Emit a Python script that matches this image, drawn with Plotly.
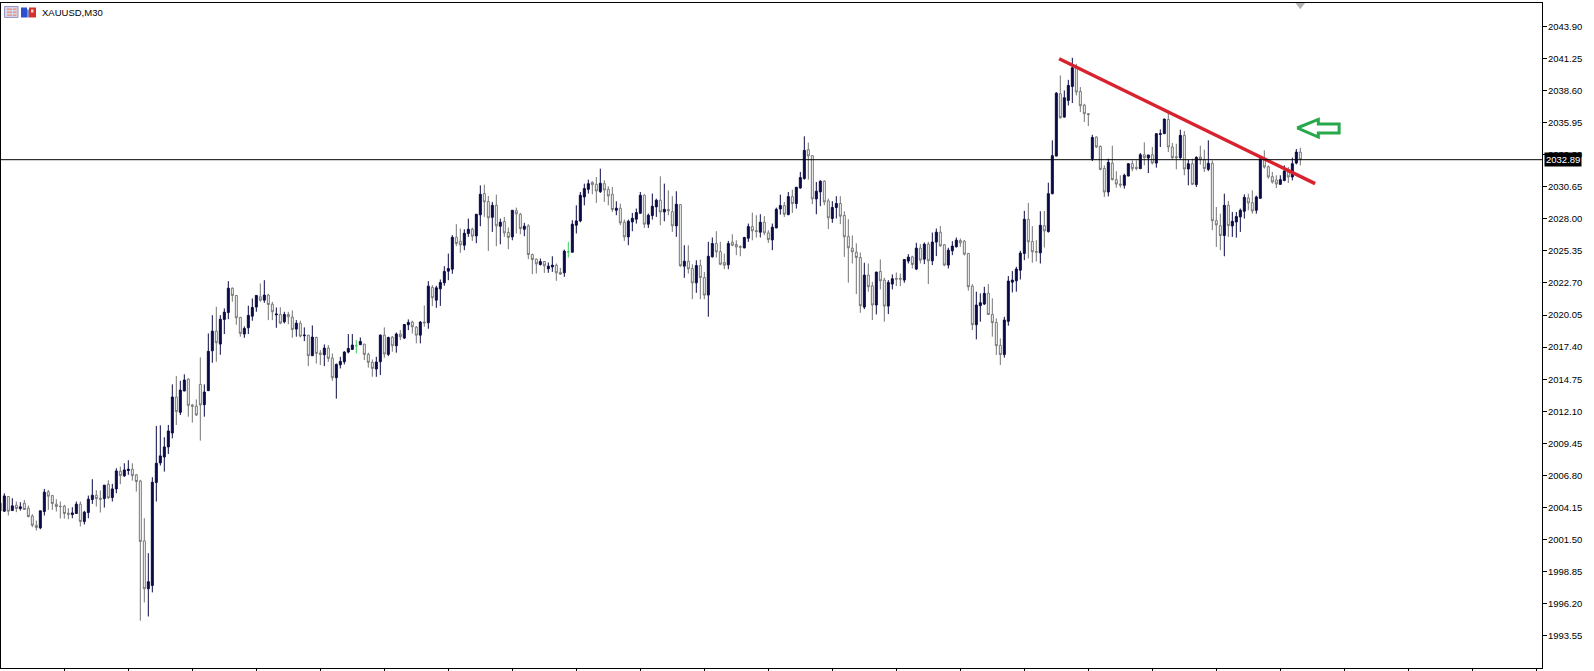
import plotly.graph_objects as go

title_text = "XAUUSD,M30"
bar_index_start = -1

candle_types = (
    "GDGDGDGGGGDDGGGGGGDDGDDDGGDGDDGDDGGGGDDDDDDDGDDGGGGDDDGDDDGGGDDDD"
    "GDGGDGDGGDGDGDGGDGGDDDDDNDGGGDDGDGDGDDGGDGDGDDDDDGGDDGDDGGDGDGGDGGDGGG"
    "DGDDGGDNDDDDDGGDGGGDGGDDDDGDDDGDGGDGDGGDGGDDGGGDGGGDDGGDGGDDDGDGDDDGGD"
    "DGGDDGGGGGGDGGDGGDDGGDDGDGDGDDGGDDDGGGGDDDGGGGDDDDDDGGG"
    "DGDDDGDDDGGGGDGGGDGGGDDGGDGDGDDDGGGDGDGDGGDGGGDGDDDDGGDDGGGGDDGDDG"
)

highs = [
    2004.64,2005.32,2005.10,2004.91,2004.64,2004.58,2004.77,2004.31,2003.59,2003.07,2003.87,2005.68,2005.60,2005.19,2004.83,2004.64,2004.36,2004.09,2004.17,2004.64,2004.64,2003.87,2005.13,2006.48,2005.57,2005.55,2006.01,2006.40,2006.10,2007.39,2007.53,2007.80,2008.05,2007.80,2006.92,2006.43,2003.26,2000.37,2006.65,2010.88,2010.94,2009.95,2010.97,2014.32,2015.01,2014.62,2015.15,2014.82,2012.70,2013.08,2016.55,2014.32,2018.53,2020.04,2020.73,2020.04,2020.60,2022.85,2022.33,2021.70,2019.91,2019.11,2020.82,2021.42,2021.70,
    2022.66,2022.93,2021.81,2021.14,2020.68,2020.70,2020.32,2020.32,2020.43,2019.63,2019.58,2019.03,2018.39,2019.19,2018.26,2017.16,2017.62,2017.57,2016.88,2016.05,2016.60,2017.07,2018.48,2018.48,2017.98,2018.20,2017.65,2016.94,2016.38,2016.60,2018.45,2019.03,2018.26,2018.31,2018.61,2018.81,2019.30,2019.69,2019.58,2019.14,2019.55,2020.84,2022.85,2022.52,2022.47,2022.99,2024.09,2025.13,2026.65,2027.56,2027.20,2027.14,2028.02,2027.28,2028.35,2030.77,2030.83,2029.89,2029.40,2030.00,2028.02,2028.16,2027.28,2028.71,2028.93,2028.49,2027.67,2027.56,2025.13,2024.72,
    2024.72,2024.50,2024.39,2024.91,2024.31,2023.95,2025.46,2026.10,2027.89,2029.12,2030.22,2030.91,2031.24,2031.10,2031.46,2032.15,2031.19,2030.69,2030.64,2029.45,2029.26,2027.94,2027.94,2028.49,2028.85,2030.22,2030.03,2028.44,2030.09,2029.67,2031.52,2030.91,2030.36,2029.87,2030.28,2029.21,2025.82,2025.82,2024.25,2024.58,2024.64,2023.62,2026.10,2026.46,2026.98,2026.10,2025.13,2026.18,2026.73,2026.23,2025.82,2026.51,2027.61,2028.52,2028.30,2028.38,2028.22,2027.06,2027.61,2028.93,2030.00,2029.40,2030.22,2030.42,2030.64,2031.88,2034.82,2034.30,2033.25,2031.05,
    2031.19,2031.19,2029.68,2029.46,2029.87,2029.87,2028.63,2027.97,2026.63,2025.97,2025.22,2024.37,2024.31,2022.80,2023.63,2024.64,2023.13,2022.94,2023.41,2023.57,2023.49,2024.67,2025.08,2024.95,2026.02,2025.91,2026.05,2026.10,2026.87,2027.20,2027.40,2025.91,2025.61,2026.16,2026.46,2026.38,2026.24,2025.19,2022.61,2021.98,2021.84,2022.39,2022.61,2021.43,2019.77,2018.12,2019.91,2023.27,2023.68,2024.04,2025.36,2028.66,2029.32,2027.40,2026.24,
    2028.63,2028.65,2030.99,2034.49,2038.48,2039.85,2038.61,2039.49,2041.31,2040.81,2038.89,2037.51,2036.74,2034.95,2034.82,2034.07,2032.42,2032.97,2034.05,2031.93,2031.60,2031.73,2032.61,2032.83,2032.83,2033.44,2034.32,2033.25,2033.94,2035.04,2035.39,2036.27,2036.96,2034.27,2034.21,2035.37,2035.26,2032.89,2032.97,2033.17,2034.05,2033.72,2034.49,2032.83,2028.98,2028.43,2030.08,2029.48,2028.57,2028.57,2028.85,2030.03,2030.08,2030.36,2029.92,2033.17,2033.66,2032.42,2031.87,2031.60,2031.60,2032.42,2032.28,2033.06,2033.77,2033.88,
]

body_tops = [
    2004.50,2005.10,2005.05,2004.28,2004.33,2004.20,2004.50,2004.09,2003.45,2002.68,2003.87,2005.41,2005.44,2005.13,2004.42,2004.25,2004.25,2003.67,2003.70,2004.42,2004.42,2003.76,2004.83,2005.16,2005.16,2004.91,2005.99,2006.07,2005.68,2007.17,2007.14,2007.25,2007.31,2007.31,2006.84,2006.34,2001.39,1998.01,2006.23,2007.80,2008.41,2009.15,2010.47,2013.28,2013.28,2013.85,2014.68,2014.76,2012.62,2012.53,2014.32,2013.69,2017.05,2018.72,2018.72,2019.71,2020.29,2022.27,2022.27,2021.67,2019.85,2018.94,2020.02,2020.68,2021.67,
    2021.56,2021.70,2021.70,2020.95,2020.13,2020.10,2020.10,2020.10,2019.88,2019.38,2019.36,2018.39,2018.39,2018.23,2018.20,2016.91,2017.32,2017.32,2016.50,2015.97,2016.22,2016.99,2017.29,2017.57,2017.51,2017.87,2017.65,2016.80,2016.14,2016.17,2018.39,2018.39,2018.20,2018.23,2018.48,2018.48,2019.27,2019.44,2019.47,2019.05,2019.47,2019.47,2022.44,2022.33,2022.30,2022.74,2023.65,2023.90,2026.48,2026.48,2026.15,2026.81,2027.14,2027.14,2028.38,2030.03,2030.09,2029.43,2029.12,2029.12,2027.72,2027.78,2026.87,2028.71,2028.68,2028.38,2027.39,2027.42,2025.05,2024.67,
    2024.47,2024.47,2024.09,2024.17,2024.17,2023.57,2025.33,2025.27,2027.56,2027.83,2029.95,2030.50,2030.91,2031.02,2030.86,2030.94,2030.91,2030.44,2030.03,2028.88,2028.88,2027.72,2027.80,2028.05,2028.52,2029.95,2029.95,2028.30,2029.04,2029.54,2029.54,2028.79,2028.77,2028.60,2029.21,2029.18,2024.50,2024.50,2023.90,2024.14,2024.14,2023.15,2024.91,2025.96,2025.96,2025.30,2024.39,2025.96,2026.07,2025.88,2025.71,2026.46,2027.36,2027.36,2027.03,2027.72,2027.72,2026.84,2027.31,2028.79,2029.10,2029.10,2029.84,2029.84,2030.61,2031.41,2033.66,2033.72,2033.22,2030.28,
    2031.11,2031.11,2029.49,2028.94,2029.27,2029.27,2028.28,2026.54,2025.58,2025.25,2024.81,2023.35,2023.35,2022.47,2023.60,2023.65,2022.94,2022.75,2023.05,2023.08,2023.08,2024.64,2024.84,2024.86,2025.58,2025.58,2025.91,2025.91,2026.08,2026.90,2026.90,2025.86,2025.41,2025.75,2026.24,2026.21,2026.16,2025.14,2022.44,2020.88,2021.07,2021.84,2021.84,2020.10,2019.44,2017.55,2019.64,2022.86,2022.94,2023.85,2025.17,2027.97,2027.95,2026.13,2025.30,
    2027.47,2027.44,2030.08,2033.22,2038.39,2038.34,2038.01,2039.03,2040.48,2040.54,2038.53,2037.40,2036.69,2034.73,2034.76,2033.99,2032.17,2032.67,2032.61,2031.24,2030.88,2031.60,2032.56,2032.56,2032.26,2033.30,2033.30,2033.28,2033.30,2035.04,2035.04,2036.25,2036.22,2033.94,2033.14,2034.90,2034.90,2032.56,2032.56,2033.08,2033.11,2032.89,2032.59,2032.59,2027.85,2027.44,2029.12,2029.12,2027.80,2028.19,2028.71,2029.78,2029.73,2029.34,2029.81,2032.97,2032.92,2032.31,2031.49,2031.21,2031.24,2031.95,2031.87,2032.56,2033.52,2033.52,
]

body_bottoms = [
    2003.87,2003.84,2003.84,2003.89,2004.06,2004.06,2003.98,2003.40,2002.68,2002.49,2002.46,2003.81,2005.08,2004.47,2004.22,2004.22,2003.65,2003.59,2003.56,2003.65,2002.99,2002.99,2003.73,2004.80,2004.88,2004.83,2004.88,2004.94,2004.97,2005.68,2006.78,2006.76,2007.20,2006.78,2006.29,2001.34,1997.43,1997.43,1997.70,2006.21,2007.83,2008.32,2009.15,2010.30,2012.07,2012.01,2013.77,2012.59,2012.51,2011.79,2012.62,2012.64,2013.80,2017.10,2017.76,2017.65,2019.69,2020.26,2021.67,2019.82,2018.53,2018.48,2019.00,2019.96,2020.71,
    2021.28,2021.28,2020.92,2020.32,2020.07,2019.38,2019.49,2019.91,2018.86,2018.89,2018.31,2018.34,2016.69,2016.69,2016.88,2016.80,2016.77,2016.47,2014.87,2014.87,2015.94,2016.19,2016.99,2017.21,2017.51,2017.60,2016.80,2016.14,2015.64,2015.59,2016.19,2016.83,2016.80,2017.51,2017.51,2018.26,2018.15,2019.25,2019.08,2018.39,2018.39,2019.41,2019.41,2021.48,2021.28,2022.22,2022.71,2023.68,2023.84,2025.96,2025.85,2025.82,2026.79,2026.57,2026.59,2028.33,2029.40,2028.08,2028.13,2027.42,2027.39,2026.84,2026.46,2026.51,2028.41,2027.20,2027.14,2025.05,2024.64,2024.28,
    2024.23,2024.12,2023.87,2024.03,2023.54,2023.43,2023.54,2025.27,2025.24,2027.47,2027.83,2029.81,2030.44,2030.83,2030.31,2030.25,2030.39,2029.89,2028.77,2028.71,2027.67,2026.51,2026.51,2027.75,2027.97,2028.46,2027.56,2027.56,2028.27,2028.99,2028.57,2028.57,2028.68,2027.42,2027.42,2024.12,2024.09,2023.87,2022.71,2022.71,2023.15,2021.70,2021.70,2024.86,2025.27,2024.25,2024.17,2024.20,2025.82,2025.68,2025.66,2025.60,2026.40,2027.01,2026.95,2026.90,2026.84,2026.29,2026.26,2027.25,2028.82,2028.38,2028.35,2029.26,2029.26,2030.55,2031.33,2033.20,2029.65,2029.65,
    2030.23,2029.40,2028.08,2028.03,2028.94,2028.22,2026.52,2025.61,2025.28,2024.81,2020.82,2020.71,2022.39,2020.88,2020.88,2022.88,2020.79,2020.79,2022.61,2023.02,2023.02,2022.94,2024.51,2024.23,2023.85,2024.59,2024.67,2024.53,2024.53,2026.08,2025.77,2024.18,2024.18,2025.36,2025.69,2026.02,2025.08,2022.39,2019.25,2019.25,2020.82,2020.96,2020.10,2019.42,2017.52,2016.78,2016.78,2019.53,2022.77,2022.88,2023.76,2025.14,2026.10,2025.28,2025.25,
    2025.19,2027.00,2026.95,2030.08,2033.19,2036.36,2036.41,2037.79,2038.94,2038.48,2037.35,2036.69,2036.63,2032.97,2033.94,2032.09,2030.22,2030.22,2031.24,2030.88,2030.80,2030.77,2031.54,2032.15,2032.17,2032.15,2033.06,2033.03,2032.61,2032.61,2034.98,2035.04,2033.94,2033.06,2033.06,2033.06,2032.12,2032.12,2030.85,2030.83,2032.89,2032.15,2032.09,2027.85,2027.50,2026.62,2026.62,2027.44,2027.41,2027.74,2028.16,2028.63,2029.31,2028.65,2028.71,2029.70,2032.28,2031.46,2031.05,2030.88,2030.85,2031.18,2031.46,2031.46,2032.61,2032.89,
]

lows = [
    2003.67,2003.78,2003.48,2003.89,2003.76,2003.89,2003.95,2003.32,2002.52,2002.24,2002.35,2003.48,2003.95,2003.95,2003.81,2003.23,2003.23,2003.18,2003.26,2003.62,2002.57,2002.74,2003.26,2004.44,2004.22,2003.73,2004.14,2004.86,2004.64,2005.32,2006.07,2006.67,2006.84,2006.37,2005.46,1994.79,1996.30,1995.14,1997.13,2004.64,2007.61,2007.11,2008.57,2009.86,2010.97,2011.79,2013.77,2011.65,2011.16,2011.71,2009.67,2011.65,2013.77,2016.11,2016.19,2016.77,2018.48,2019.71,2021.15,2019.25,2018.26,2018.17,2018.48,2019.58,2020.32,
    2021.14,2021.06,2019.63,2019.63,2019.00,2019.30,2019.36,2019.30,2018.17,2018.26,2018.20,2017.90,2015.83,2016.66,2016.05,2015.92,2015.83,2016.19,2014.62,2013.14,2015.64,2015.97,2016.88,2017.16,2016.88,2017.57,2016.33,2015.70,2014.95,2014.95,2015.09,2016.52,2016.66,2017.02,2016.94,2017.98,2018.06,2018.81,2018.53,2017.71,2017.71,2019.08,2018.92,2020.79,2020.65,2020.81,2022.47,2022.93,2023.46,2025.74,2025.19,2025.41,2026.51,2026.18,2025.99,2027.39,2028.16,2025.35,2026.92,2025.74,2025.90,2026.51,2025.49,2026.23,2026.79,2026.73,2026.57,2024.67,2023.43,2023.48,
    2024.14,2023.54,2023.54,2023.62,2022.88,2023.37,2023.21,2024.80,2025.24,2026.79,2027.72,2029.12,2030.09,2030.03,2029.32,2030.14,2029.40,2029.12,2028.57,2028.30,2027.47,2026.18,2025.82,2026.98,2027.61,2028.44,2027.25,2027.25,2027.94,2028.16,2027.47,2027.80,2028.30,2026.92,2026.51,2024.03,2023.13,2023.48,2021.36,2021.89,2021.36,2021.36,2019.91,2024.80,2024.80,2024.17,2023.84,2023.84,2025.74,2025.00,2024.91,2025.57,2026.10,2026.23,2026.46,2026.46,2026.65,2026.01,2025.41,2027.23,2028.35,2028.16,2028.30,2028.49,2028.85,2030.50,2031.24,2031.24,2029.21,2028.38,
    2029.05,2029.13,2027.15,2027.67,2028.03,2027.56,2024.86,2022.72,2024.31,2021.78,2020.24,2020.54,2021.98,2019.64,2020.10,2022.17,2019.50,2020.13,2022.17,2022.44,2022.44,2022.72,2024.31,2023.90,2023.76,2024.31,2024.26,2022.61,2024.18,2024.92,2025.69,2024.09,2023.90,2025.00,2025.64,2025.69,2024.97,2022.06,2018.81,2018.04,2019.50,2020.88,2020.05,2018.26,2016.75,2015.92,2016.53,2019.17,2021.92,2021.98,2022.99,2024.59,2024.73,2024.37,2024.48,
    2024.31,2025.63,2026.86,2030.03,2033.17,2036.27,2036.36,2037.37,2037.57,2038.20,2036.82,2036.00,2035.67,2032.78,2033.85,2032.01,2029.81,2029.86,2031.18,2030.58,2030.58,2030.50,2031.51,2031.93,2032.01,2032.15,2032.42,2031.79,2032.50,2032.23,2033.94,2035.04,2033.52,2032.89,2032.09,2032.89,2031.60,2030.77,2030.83,2030.63,2032.48,2031.87,2031.95,2027.06,2025.68,2025.41,2024.91,2026.51,2026.51,2026.45,2026.92,2028.02,2028.71,2028.43,2028.43,2029.64,2032.15,2031.32,2030.91,2030.55,2030.83,2031.10,2030.96,2031.18,2032.50,2032.42,
]

y_tick_values = [1993.55,1996.20,1998.85,2001.50,2004.15,2006.80,2009.45,2012.10,2014.75,2017.40,2020.05,2022.70,2025.35,2028.00,2030.65,2033.30,2035.95,2038.60,2041.25,2043.90]
x_tick_values = [-1,15,31,47,63,79,95,111,127,143,159,175,191,207,223,239,255,271,287,303,319,335,351,367,383]
current_price = 2032.89
current_label = "2032.89"
trend_x = [263.7, 327.7]
trend_y = [2041.23, 2030.91]
arrow_x = [323.2, 328.5, 328.5, 333.7, 333.7, 328.5, 328.5, 323.2]
arrow_y = [2035.51, 2036.22, 2035.85, 2035.85, 2035.09, 2035.09, 2034.76, 2035.51]
marker_x = [324]
marker_y = [2045.7]

n = len(candle_types)
assert n == len(highs) == len(body_tops) == len(body_bottoms) == len(lows)
xs = list(range(bar_index_start, bar_index_start + n))

def pick(kinds):
    idx = [i for i, t in enumerate(candle_types) if t in kinds]
    return (
        [xs[i] for i in idx],
        [body_bottoms[i] if candle_types[i] != "G" else body_tops[i] for i in idx],
        [highs[i] for i in idx],
        [lows[i] for i in idx],
        [body_tops[i] if candle_types[i] != "G" else body_bottoms[i] for i in idx],
    )

NAVY = "#0b0b45"
GRAY = "#757575"
fig = go.Figure()
x, o, h, l, c = pick("DG")
fig.add_trace(go.Candlestick(
    x=x, open=o, high=h, low=l, close=c,
    increasing=dict(line=dict(color=NAVY, width=1), fillcolor=NAVY),
    decreasing=dict(line=dict(color=GRAY, width=1), fillcolor="#ffffff"),
    whiskerwidth=0, showlegend=False,
))
x, o, h, l, c = pick("N")
fig.add_trace(go.Candlestick(
    x=x, open=o, high=h, low=l, close=c,
    increasing=dict(line=dict(color="#3ccf5a", width=1), fillcolor="#3ccf5a"),
    decreasing=dict(line=dict(color="#3ccf5a", width=1), fillcolor="#3ccf5a"),
    whiskerwidth=0, showlegend=False,
))
fig.add_trace(go.Scatter(x=trend_x, y=trend_y, mode="lines", line=dict(color="#d8232f", width=3.5), showlegend=False, hoverinfo="skip"))
fig.add_trace(go.Scatter(x=arrow_x, y=arrow_y, mode="lines", line=dict(color="#27a84a", width=3), showlegend=False, hoverinfo="skip"))
fig.add_trace(go.Scatter(x=marker_x, y=marker_y, mode="markers", cliponaxis=False,
                         marker=dict(symbol="triangle-down", size=9, color="#b4b4b4"), showlegend=False, hoverinfo="skip"))

PW, PH = 1541.0, 665.8
def px(v): return (v - 1) / PW
def py(v): return 1 - (v - 2.5) / PH
def rect(x0, y0, x1, y1, fill, line=None):
    return dict(type="rect", xref="paper", yref="paper", x0=px(x0), x1=px(x1), y0=py(y0), y1=py(y1),
                fillcolor=fill, line=dict(color=line or fill, width=1 if line else 0), layer="above")

shapes = [dict(type="line", xref="paper", yref="y", x0=0, x1=1, y0=current_price, y1=current_price,
               line=dict(color="#000000", width=1), layer="above")]
shapes += [rect(4.5, 6, 18, 17, "#d8d4ec", "#9a96c8")]
shapes += [rect(7, 8, 12, 9.5, "#e89a80"), rect(13, 8, 16.5, 9.5, "#e89a80"),
           rect(7, 11, 12, 12.5, "#e89a80"), rect(13, 11, 16.5, 12.5, "#e89a80"),
           rect(7, 14, 12, 15.5, "#e89a80"), rect(13, 14, 16.5, 15.5, "#e89a80")]
shapes += [rect(21, 7, 27, 17, "#2a4fd0"), rect(29, 7, 36, 17, "#d6302c"),
           rect(27, 9, 29, 17, "#8a8ac0"), rect(31, 9, 33.5, 12, "#f0d8d0")]

fig.update_layout(
    width=1594, height=671,
    margin=dict(l=1, r=52, t=2.5, b=2.7, pad=0),
    paper_bgcolor="#ffffff", plot_bgcolor="#ffffff",
    boxmode="overlay", boxgap=0.3,
    shapes=shapes,
    hovermode=False,
    xaxis=dict(range=[-0.83, 384.42], rangeslider=dict(visible=False), showgrid=False, zeroline=False,
               showline=True, linecolor="#000000", linewidth=1, mirror=True,
               tickmode="array", tickvals=x_tick_values, ticks="outside", ticklen=2, tickcolor="#000000",
               showticklabels=False),
    yaxis=dict(range=[1990.88, 2045.84], side="right", showgrid=False, zeroline=False,
               showline=True, linecolor="#000000", linewidth=1, mirror=True,
               tickmode="array", tickvals=y_tick_values, tickformat=".2f", ticks="outside", ticklen=4, tickcolor="#000000",
               ticklabelstandoff=-1,
               tickfont=dict(family="Liberation Sans", size=9.5, color="#000000")),
    annotations=[
        dict(xref="paper", yref="paper", x=px(39.5), y=py(12), xanchor="left", yanchor="middle", showarrow=False,
             text=title_text, font=dict(family="Liberation Sans", size=9.5, color="#000000")),
        dict(xref="paper", yref="y", x=px(1544), y=current_price, xanchor="left", yanchor="middle", showarrow=False,
             text=current_label, bgcolor="#000000", borderpad=1,
             font=dict(family="Liberation Sans", size=9.5, color="#ffffff")),
    ],
)

fig.write_html("out.html", config=dict(displayModeBar=False),
               post_script="document.body.style.margin='0';document.body.style.overflow='hidden';")
